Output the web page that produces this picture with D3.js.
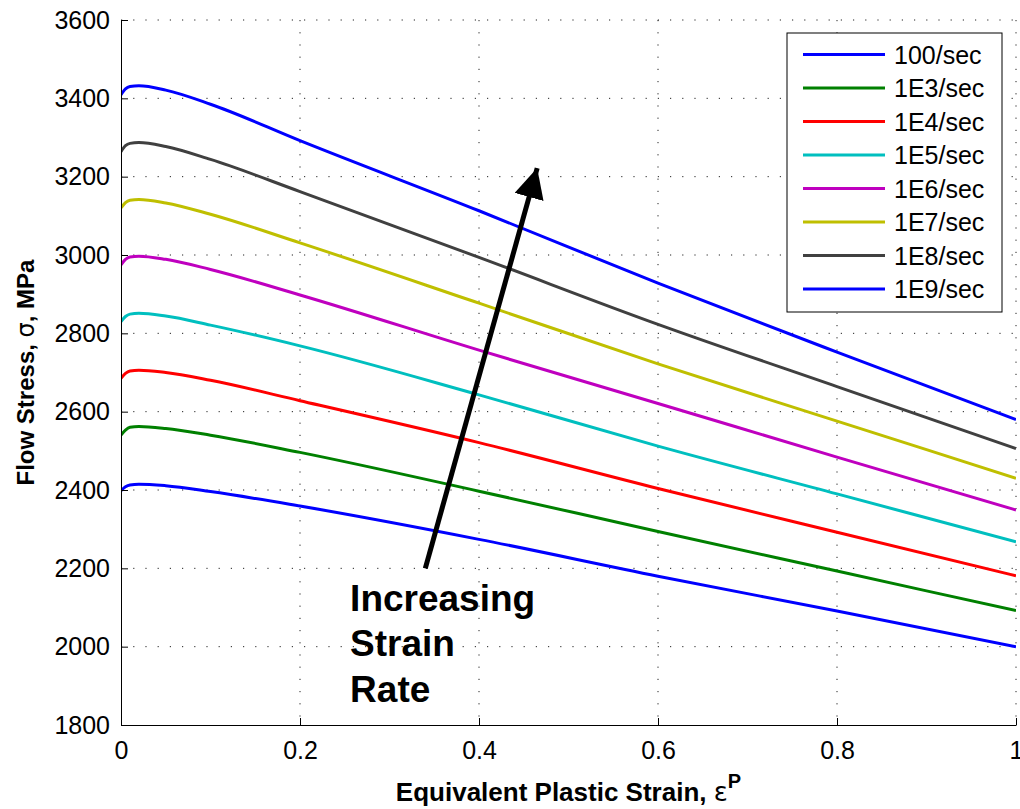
<!DOCTYPE html>
<html>
<head>
<meta charset="utf-8">
<script src="https://cdn.jsdelivr.net/npm/d3@7"></script>
<style>
  body { margin: 0; background: #fff; }
  svg { font-family: "Liberation Sans", Arial, sans-serif; }
</style>
</head>
<body>
<svg id="chart" width="1020" height="809"></svg>
<script>
// strain values (x) shared by every curve
const strain = [0, 0.005, 0.01, 0.02, 0.05, 0.1, 0.2, 0.4, 0.6, 0.8, 1.0]

// flow stress, MPa, one array per strain rate
const rate100 = [2398, 2408, 2413, 2415, 2411, 2396, 2359, 2274, 2180, 2091, 2000]
const rate1e3 = [2540, 2553, 2560, 2562, 2557, 2540, 2496, 2397, 2294, 2193, 2092]
const rate1e4 = [2685, 2698, 2704, 2706, 2700, 2680, 2628, 2521, 2404, 2292, 2181]
const rate1e5 = [2830, 2843, 2849, 2851, 2844, 2821, 2768, 2643, 2512, 2390, 2268]
const rate1e6 = [2975, 2989, 2995, 2997, 2989, 2963, 2898, 2757, 2621, 2484, 2349]
const rate1e7 = [3120, 3134, 3140, 3142, 3133, 3104, 3031, 2877, 2722, 2576, 2430]
const rate1e8 = [3264, 3279, 3285, 3287, 3277, 3244, 3162, 2994, 2823, 2664, 2506]
const rate1e9 = [3409, 3424, 3430, 3432, 3421, 3385, 3292, 3113, 2928, 2752, 2580]

const seriesNames = ['100/sec', '1E3/sec', '1E4/sec', '1E5/sec', '1E6/sec', '1E7/sec', '1E8/sec', '1E9/sec']
const seriesValues = [rate100, rate1e3, rate1e4, rate1e5, rate1e6, rate1e7, rate1e8, rate1e9]
const seriesColors = ['#0000ff', '#008000', '#ff0000', '#00bfbf', '#bf00bf', '#bfbf00', '#404040', '#0000ff']

const xTicks = [0, 0.2, 0.4, 0.6, 0.8, 1]
const yTicks = [1800, 2000, 2200, 2400, 2600, 2800, 3000, 3200, 3400, 3600]

// annotation arrow: [strain, stress] tail -> tip
const arrowTail = [0.34, 2200]
const arrowTip = [0.465, 3222]
const noteLines = ['Increasing', 'Strain', 'Rate']
const noteStrain = 0.256
const noteStress = [2090, 1975, 1860]

const chart = { left: 121, top: 20, width: 895, height: 705 }

const svg = d3.select('#chart')

var x = d3.scaleLinear().domain([0, 1]).range([0, chart.width])
var y = d3.scaleLinear().domain([1800, 3600]).range([chart.height, 0])

const g = svg.append('g').attr('transform', `translate(${chart.left},${chart.top})`)

// dotted grid
g.append('g').selectAll('line.gx')
    .data(xTicks.slice(1))
    .join('line')
    .attr('x1', d => x(d)).attr('x2', d => x(d))
    .attr('y1', 0).attr('y2', chart.height)
    .attr('stroke', '#222').attr('stroke-width', 1)
    .attr('stroke-dasharray', '1.2,11')
g.append('g').selectAll('line.gy')
    .data(yTicks.slice(1))
    .join('line')
    .attr('x1', 0).attr('x2', chart.width)
    .attr('y1', d => y(d)).attr('y2', d => y(d))
    .attr('stroke', '#222').attr('stroke-width', 1)
    .attr('stroke-dasharray', '1.2,11')

// curves
g.append('clipPath').attr('id', 'clip')
    .append('rect').attr('width', chart.width).attr('height', chart.height)

const line = d3.line()
    .x((d, i) => x(strain[i]))
    .y(d => y(d))
    .curve(d3.curveMonotoneX)

g.append('g').attr('clip-path', 'url(#clip)')
    .selectAll('path')
    .data(seriesValues)
    .join('path')
    .attr('fill', 'none')
    .attr('stroke', (d, i) => seriesColors[i])
    .attr('stroke-width', 3)
    .attr('d', line)

// axes
const xAxis = g.append('g')
    .attr('transform', `translate(0,${chart.height})`)
    .call(d3.axisBottom(x).tickValues(xTicks).tickFormat(d3.format('')).tickSizeInner(-7).tickSizeOuter(0).tickPadding(16))
const yAxis = g.append('g')
    .call(d3.axisLeft(y).tickValues(yTicks).tickFormat(d3.format('d')).tickSizeInner(-7).tickSizeOuter(0).tickPadding(11))

;[xAxis, yAxis].forEach(a => {
    a.selectAll('text').attr('font-size', 25).attr('fill', '#000')
        .attr('font-family', '"Liberation Sans", Arial, sans-serif')
    a.selectAll('line').attr('stroke', '#000')
    a.select('.domain').attr('stroke', '#000')
})

// arrow
svg.append('defs').append('marker')
    .attr('id', 'head')
    .attr('viewBox', '0 0 10 10')
    .attr('refX', 10).attr('refY', 5)
    .attr('markerWidth', 6).attr('markerHeight', 6)
    .attr('markerUnits', 'strokeWidth')
    .attr('orient', 'auto')
    .append('path').attr('d', 'M0,0 L10,5 L0,10 Z').attr('fill', '#000')

g.append('line')
    .attr('x1', x(arrowTail[0])).attr('y1', y(arrowTail[1]))
    .attr('x2', x(arrowTip[0])).attr('y2', y(arrowTip[1]))
    .attr('stroke', '#000').attr('stroke-width', 5)
    .attr('marker-end', 'url(#head)')

g.append('g').selectAll('text')
    .data(noteLines)
    .join('text')
    .attr('x', x(noteStrain))
    .attr('y', (d, i) => y(noteStress[i]))
    .attr('font-size', 37).attr('font-weight', 'bold')
    .text(d => d)

// legend
const legend = svg.append('g').attr('transform', 'translate(787,33)')
legend.append('rect')
    .attr('width', 215).attr('height', 279)
    .attr('fill', '#fff').attr('stroke', '#000').attr('stroke-width', 1)
const rows = legend.selectAll('g.row')
    .data(seriesNames)
    .join('g')
    .attr('transform', (d, i) => `translate(0,${21.5 + i * 33.5})`)
rows.append('line')
    .attr('x1', 16).attr('x2', 98)
    .attr('stroke', (d, i) => seriesColors[i]).attr('stroke-width', 3)
rows.append('text')
    .attr('x', 107).attr('dy', '0.36em')
    .attr('font-size', 25)
    .text(d => d)

// axis labels
svg.append('text')
    .attr('x', chart.left + chart.width / 2).attr('y', 801)
    .attr('text-anchor', 'middle')
    .attr('font-size', 26).attr('font-weight', 'bold')
    .call(t => {
        t.append('tspan').text('Equivalent Plastic Strain, ')
        t.append('tspan').attr('font-weight', 'normal').attr('font-family', '"DejaVu Sans", sans-serif').text('ε')
        t.append('tspan').attr('dy', -13).attr('font-size', 20).text('P')
    })

svg.append('text')
    .attr('transform', `translate(34,${chart.top + chart.height / 2}) rotate(-90)`)
    .attr('text-anchor', 'middle')
    .attr('font-size', 24).attr('font-weight', 'bold')
    .call(t => {
        t.append('tspan').text('Flow Stress, ')
        t.append('tspan').attr('font-weight', 'normal').attr('font-family', '"DejaVu Sans", sans-serif').text('σ')
        t.append('tspan').text(', MPa')
    })
</script>
</body>
</html>
